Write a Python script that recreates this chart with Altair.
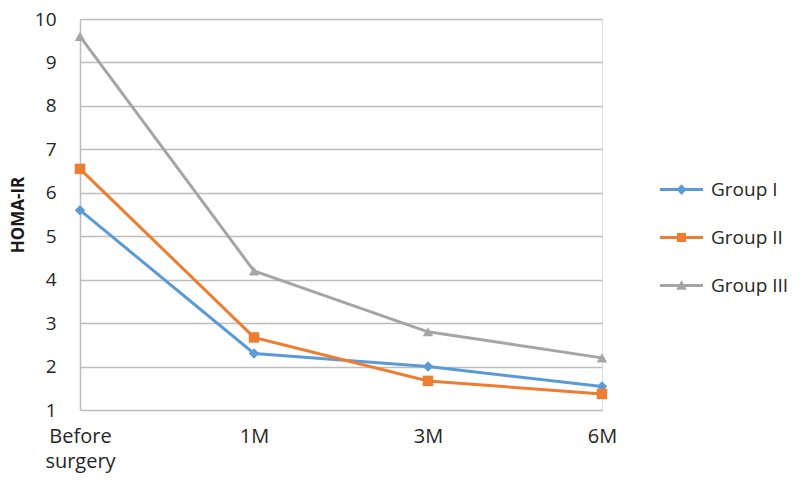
import altair as alt
import pandas as pd

categories = ["Before surgery", "1M", "3M", "6M"]
groups = ["Group I", "Group II", "Group III"]
group1 = [5.6, 2.3, 2.0, 1.54]
group2 = [6.55, 2.67, 1.67, 1.37]
group3 = [9.6, 4.2, 2.8, 2.2]
colors = ["#5B9BD5", "#ED7D31", "#A5A5A5"]
shapes = ["diamond", "square", "triangle-up"]
legend_shapes = [
    "M-1,-0.07H1V0.07H-1Z M0,-0.25L0.23,0L0,0.25L-0.23,0Z",
    "M-1,-0.07H1V0.07H-1Z M-0.21,-0.21H0.21V0.21H-0.21Z",
    "M-1,-0.07H1V0.07H-1Z M0,-0.25L0.25,0.2L-0.25,0.2Z",
]
y_ticks = [1, 2, 3, 4, 5, 6, 7, 8, 9, 10]

rows = []
for g, vals in zip(groups, [group1, group2, group3]):
    for c, v in zip(categories, vals):
        rows.append({"time": c, "group": g, "value": v})
df = pd.DataFrame(rows)

FONT = "Open Sans"
PLOT_H = 391

x_enc = alt.X(
    "time:N",
    sort=categories,
    scale=alt.Scale(type="point", padding=0, domain=categories),
    axis=alt.Axis(
        title=None, domain=False, ticks=False, grid=False, labelAngle=0,
        labelFont=FONT, labelFontSize=20, labelColor="#262626",
        labelPadding=16, labelLineHeight=25,
        labelExpr="split(datum.label, ' ')",
    ),
)
y_enc = alt.Y(
    "value:Q",
    scale=alt.Scale(domain=[1, 10], nice=False, zero=False),
    axis=alt.Axis(
        title="HOMA-IR", values=y_ticks, format="d",
        titleFont=FONT, titleFontSize=17, titleFontWeight="bold",
        titleColor="#1a1a1a", titleAngle=-90, titleBaseline="middle",
        titleAlign="center", titleX=-62, titleY=PLOT_H / 2,
        labelFont=FONT, labelFontSize=19, labelColor="#262626",
        labelPadding=24, labelOffset=0, ticks=False,
        domain=True, domainColor="#BDBDBD", domainWidth=1.5,
        grid=True, gridColor="#BDBDBD", gridWidth=1.5,
    ),
)

legend = alt.Legend(
    title=None, orient="none", legendX=580, legendY=149,
    symbolSize=1849, symbolStrokeWidth=0, labelOffset=8,
    rowPadding=16, labelFont=FONT, labelFontSize=19,
    labelColor="#262626", symbolOpacity=1,
)

lines = alt.Chart(df).mark_line(strokeWidth=3).encode(
    x=x_enc,
    y=y_enc,
    color=alt.Color("group:N", scale=alt.Scale(domain=groups, range=colors), legend=None),
    detail="group:N",
)

points = alt.Chart(df).mark_point(filled=True, size=110, opacity=1).encode(
    x=x_enc,
    y=y_enc,
    color=alt.Color("group:N", scale=alt.Scale(domain=groups, range=colors), legend=None),
    shape=alt.Shape("group:N", scale=alt.Scale(domain=groups, range=shapes), legend=None),
)

legend_layer = alt.Chart(df).mark_point(filled=True, opacity=0).encode(
    x=x_enc,
    y=y_enc,
    color=alt.Color("group:N", scale=alt.Scale(domain=groups, range=colors), legend=legend),
    shape=alt.Shape("group:N", scale=alt.Scale(domain=groups, range=legend_shapes), legend=legend),
)

chart = (
    alt.layer(lines, points, legend_layer)
    .resolve_scale(shape="independent", color="independent")
    .properties(
        width=522, height=PLOT_H,
        autosize=alt.AutoSizeParams(type="none"),
        padding={"left": 72, "top": 11, "right": 190, "bottom": 67},
    )
    .configure_view(stroke=None)
    .configure(background="white")
)

chart.save("out.html", embed_options={"renderer": "svg", "actions": False})
